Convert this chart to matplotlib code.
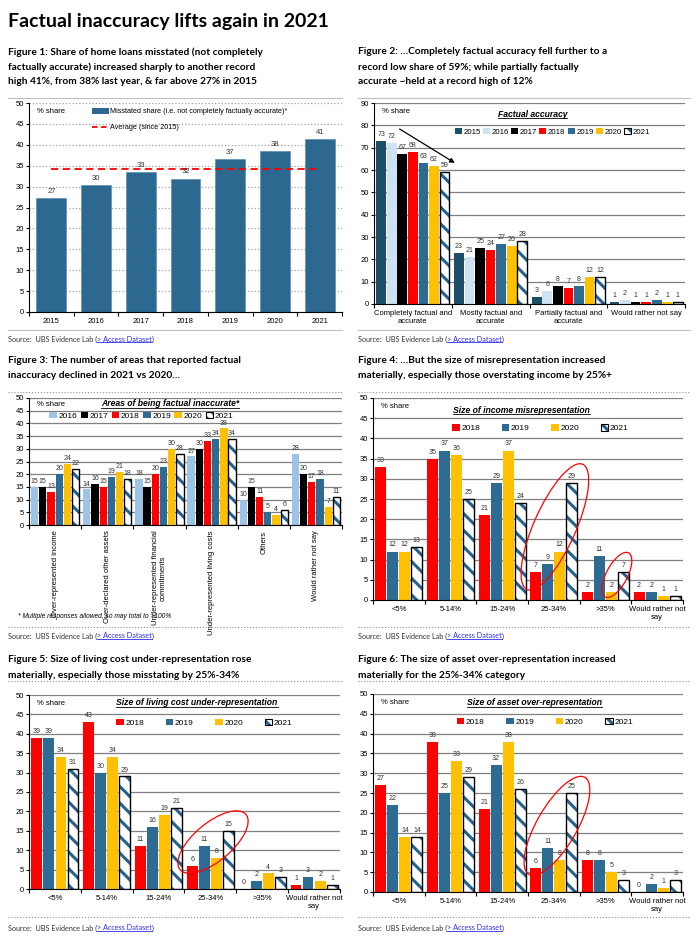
import numpy as np
import matplotlib
matplotlib.use('Agg')
import matplotlib.pyplot as plt
from matplotlib.patches import Patch, Ellipse
from matplotlib.lines import Line2D
from matplotlib.legend_handler import HandlerTuple
import matplotlib.transforms as mtrans

plt.rcParams['font.family'] = ['Liberation Sans', 'DejaVu Sans']
plt.rcParams['hatch.linewidth'] = 2.2
CAP = ['Lato', 'DejaVu Sans']

# ---- data ----
years1 = ['2015', '2016', '2017', '2018', '2019', '2020', '2021']
misstated = [27.3, 30.3, 33.4, 31.9, 36.6, 38.4, 41.4]
avg_share = 34.2

acc_cats = ['Completely factual and\naccurate', 'Mostly factual and\naccurate',
            'Partially factual and\naccurate', 'Would rather not say']
acc_2015 = [73, 23, 3, 1]
acc_2016 = [72, 21, 6, 2]
acc_2017 = [67, 25, 8, 1]
acc_2018 = [68, 24, 7, 1]
acc_2019 = [63, 27, 8, 2]
acc_2020 = [62, 26, 12, 1]
acc_2021 = [59, 28, 12, 1]

area_cats = ['Over-represented income', 'Over-declared other assets',
             'Under-represented financial\ncommitments', 'Under-represented living costs',
             'Others', 'Would rather not say']
area_2016 = [15, 14, 18, 27, 10, 28]
area_2017 = [15, 16, 15, 30, 15, 20]
area_2018 = [13, 15, 20, 33, 11, 17]
area_2019 = [20, 19, 23, 34, 5, 18]
area_2020 = [24, 21, 30, 38, 4, 7]
area_2021 = [22, 18, 28, 34, 6, 11]

size_cats = ['<5%', '5-14%', '15-24%', '25-34%', '>35%', 'Would rather not\nsay']
inc_2018 = [33, 35, 21, 7, 2, 2]
inc_2019 = [12, 37, 29, 9, 11, 2]
inc_2020 = [12, 36, 37, 12, 2, 1]
inc_2021 = [13, 25, 24, 29, 7, 1]

liv_2018 = [39, 43, 11, 6, 0, 1]
liv_2019 = [39, 30, 16, 11, 2, 3]
liv_2020 = [34, 34, 19, 8, 4, 2]
liv_2021 = [31, 29, 21, 15, 3, 1]

ast_2018 = [27, 38, 21, 6, 8, 0]
ast_2019 = [22, 25, 32, 11, 8, 2]
ast_2020 = [14, 33, 38, 8, 5, 1]
ast_2021 = [14, 29, 26, 25, 3, 3]

# colours
C15 = '#1F4E68'
C16 = '#CFE2F3'
C16b = '#9DC3E6'
C17 = '#000000'
C18 = '#FF0000'
C19 = '#2E6B92'
C20 = '#FFC000'
CH = '#23628F'
HATCH = 'hatch'

W, H = 700, 944
fig = plt.figure(figsize=(7, 9.44), dpi=100)


def ax_px(x0, y0, x1, y1):
    return fig.add_axes([x0 / W, 1 - y1 / H, (x1 - x0) / W, (y1 - y0) / H])


def style(ax, cats, ymax, ystep, rot=0, grid_ls='-', grid_c='#808080'):
    n = len(cats)
    ax.set_xlim(-0.5, n - 0.5)
    ax.set_ylim(0, ymax)
    ax.set_yticks(np.arange(0, ymax + 1, ystep))
    ax.tick_params(axis='y', labelsize=5.5, length=2, pad=1.5)
    ax.set_xticks(np.arange(-0.5, n, 1))
    ax.set_xticklabels([])
    ax.set_xticks(np.arange(n), minor=True)
    if rot:
        ax.set_xticklabels(cats, minor=True, rotation=90, va='top', ha='center')
    else:
        ax.set_xticklabels(cats, minor=True)
    ax.tick_params(axis='x', which='major', length=3, width=0.8)
    ax.tick_params(axis='x', which='minor', length=0, labelsize=5.5, pad=4)
    for s in ['top', 'right']:
        ax.spines[s].set_visible(False)
    ax.spines['left'].set_linewidth(0.8)
    ax.spines['bottom'].set_linewidth(0.8)
    ax.grid(axis='y', color=grid_c, lw=0.9, ls=grid_ls)
    ax.set_axisbelow(True)
    ax.text(0.025, 0.975, '% share', transform=ax.transAxes, fontsize=5.5, va='top')


def grouped(ax, series, colors, width, step, ymax):
    n = len(series)
    x = np.arange(len(series[0]))
    handles = []
    for i, (vals, col) in enumerate(zip(series, colors)):
        xs = x + (i - (n - 1) / 2) * step
        if col == HATCH:
            ax.bar(xs, vals, width, color='white', edgecolor=CH, hatch='\\\\', lw=0)
            ax.bar(xs, vals, width, fill=False, edgecolor='black', lw=1.0)
            handles.append((Patch(facecolor='white', edgecolor=CH, hatch='\\\\\\', lw=0),
                            Patch(fill=False, edgecolor='black', lw=0.8)))
        else:
            ax.bar(xs, vals, width, color=col, lw=0)
            handles.append(Patch(facecolor=col, lw=0))
        for xi, v in zip(xs, vals):
            ax.text(xi, v + ymax * 0.015, f'{v:g}', ha='center', va='bottom',
                    fontsize=5, color='#333333')
    return handles


def legend(ax, handles, labels, x, y, colsp, fs=6):
    ax.legend(handles, labels, loc='center left', bbox_to_anchor=(x, y), ncol=len(labels),
              frameon=False, fontsize=fs, handlelength=0.9, handleheight=0.8,
              handletextpad=0.2, columnspacing=colsp, borderaxespad=0, borderpad=0,
              handler_map={tuple: HandlerTuple(ndivide=1)})


def ellipse(ax, xc, yc, w_px, h_px, ang):
    # size in pixels, centre in data units
    tr = fig.dpi_scale_trans + mtrans.ScaledTranslation(xc, yc, ax.transData)
    ax.add_patch(Ellipse((0, 0), w_px / 100, h_px / 100, angle=ang, fill=False,
                         edgecolor='red', lw=0.9, transform=tr, clip_on=False, zorder=5))


under = []


def title_in(ax, txt, x, y):
    t = ax.text(x, y, txt, transform=ax.transAxes, ha='center', va='center',
                fontsize=6.2, fontweight='bold', style='italic')
    under.append((t, 'black'))


# ---- Figure 1 ----
ax1 = ax_px(29, 103, 342, 312)
style(ax1, years1, 50, 5, grid_ls=':', grid_c='#a0a0a0')
ax1.bar(np.arange(7), misstated, 0.67, color='#2C6890', edgecolor='#5E90B2', lw=0.5)
for i, v in enumerate(misstated):
    ax1.text(i, v + 0.8, f'{v:.0f}', ha='center', va='bottom', fontsize=5.5, color='#333333')
ax1.hlines(avg_share, 0, 6, colors='red', linestyles=(0, (4, 2.5)), lw=1.3)
ax1.legend([Patch(facecolor='#2C6890', lw=0), Line2D([], [], color='red', ls=(0, (3, 2)), lw=1.3)],
           ['Misstated share (i.e. not completely factually accurate)*', 'Average (since 2015)'],
           loc='upper left', bbox_to_anchor=(0.2, 0.975), frameon=False, fontsize=5.2,
           handlelength=2.4, handleheight=0.8, handletextpad=0.1, labelspacing=1.2,
           borderaxespad=0, borderpad=0)

# ---- Figure 2 ----
ax2 = ax_px(374, 103, 685, 304)
style(ax2, acc_cats, 90, 10)
h2 = grouped(ax2, [acc_2015, acc_2016, acc_2017, acc_2018, acc_2019, acc_2020, acc_2021],
             [C15, C16, C17, C18, C19, C20, HATCH], 0.125, 0.136, 90)
legend(ax2, h2, years1, 0.26, 0.855, 0.3, fs=5.6)
title_in(ax2, 'Factual accuracy', 0.51, 0.945)
ax2.annotate('', xy=(0.57, 62.5), xytext=(-0.2, 79),
             arrowprops=dict(arrowstyle='-|>', color='black', lw=0.9, mutation_scale=7))

# ---- Figure 3 ----
ax3 = ax_px(29, 398, 342, 525)
style(ax3, area_cats, 50, 5, rot=True)
h3 = grouped(ax3, [area_2016, area_2017, area_2018, area_2019, area_2020, area_2021],
             [C16b, C17, C18, C19, C20, HATCH], 0.14, 0.157, 50)
legend(ax3, h3, years1[1:], 0.065, 0.86, 0.4)
title_in(ax3, 'Areas of being factual inaccurate*', 0.45, 0.955)

# ---- Figure 4 ----
ax4 = ax_px(373, 398, 683, 600)
style(ax4, size_cats, 50, 5)
h4 = grouped(ax4, [inc_2018, inc_2019, inc_2020, inc_2021], [C18, C19, C20, HATCH], 0.21, 0.233, 50)
legend(ax4, h4, years1[3:], 0.255, 0.85, 2.6)
title_in(ax4, 'Size of income misrepresentation', 0.48, 0.94)
ellipse(ax4, 3.02, 18.1, 137, 42, 66)
ellipse(ax4, 4.22, 6.2, 50, 21, 62)

# ---- Figure 5 ----
ax5 = ax_px(29, 695, 340, 889)
style(ax5, size_cats, 50, 5)
h5 = grouped(ax5, [liv_2018, liv_2019, liv_2020, liv_2021], [C18, C19, C20, HATCH], 0.21, 0.233, 50)
legend(ax5, h5, years1[3:], 0.28, 0.855, 2.6)
title_in(ax5, 'Size of living cost under-representation', 0.54, 0.96)
ellipse(ax5, 3.05, 12.1, 86, 38, 40)

# ---- Figure 6 ----
ax6 = ax_px(373, 694, 683, 892)
style(ax6, size_cats, 50, 5)
h6 = grouped(ax6, [ast_2018, ast_2019, ast_2020, ast_2021], [C18, C19, C20, HATCH], 0.21, 0.233, 50)
legend(ax6, h6, years1[3:], 0.27, 0.86, 2.6)
title_in(ax6, 'Size of asset over-representation', 0.52, 0.955)
ellipse(ax6, 3.06, 16.7, 112, 40, 60)

# ---- texts around ----
fig.text(8 / W, 1 - 22 / H, 'Factual inaccuracy lifts again in 2021', fontsize=14,
         fontweight='bold', family=CAP, va='center')

captions = [
    (8, [52, 67, 82], ['Figure 1: Share of home loans misstated (not completely',
                       'factually accurate) increased sharply to another record',
                       'high 41%, from 38% last year, & far above 27% in 2015']),
    (358, [52, 67, 82], ['Figure 2: \u2026Completely factual accuracy fell further to a',
                         'record low share of 59%; while partially factually',
                         'accurate ~held at a record high of 12%']),
    (8, [361, 376], ['Figure 3: The number of areas that reported factual',
                     'inaccuracy declined in 2021 vs 2020\u2026']),
    (358, [361, 376], ['Figure 4: \u2026But the size of misrepresentation increased',
                       'materially, especially those overstating income by 25%+']),
    (8, [659, 675], ['Figure 5: Size of living cost under-representation rose',
                     'materially, especially those misstating by 25%-34%']),
    (358, [659, 675], ['Figure 6: The size of asset over-representation increased',
                       'materially for the 25%-34% category']),
]
for x, ys, lines in captions:
    for y, ln in zip(ys, lines):
        fig.text(x / W, 1 - y / H, ln, fontsize=7.3, fontweight='bold', family=CAP, va='center')

fig.text(18 / W, 1 - 617 / H, '* Multiple responses allowed, so may total to >100%',
         fontsize=4.8, style='italic', va='center')

# separator lines
for y, ls, c in [(98, '-', '#c0c0c0'), (330, '-', '#c0c0c0'), (392, ':', '#909090'),
                 (627, ':', '#909090'), (681, ':', '#909090'), (917, ':', '#909090')]:
    for x0, x1 in [(8, 342), (358, 690)]:
        fig.add_artist(Line2D([x0 / W, x1 / W], [1 - y / H, 1 - y / H], color=c, lw=0.8, ls=ls))

# source lines
links = []
for y in [339, 636, 928]:
    for x in [8, 358]:
        t1 = fig.text(x / W, 1 - y / H, 'Source:  UBS Evidence Lab (', fontsize=5.2,
                      family=CAP, color='#333333', va='center')
        links.append(t1)

fig.canvas.draw()
r = fig.canvas.get_renderer()
inv = fig.transFigure.inverted()
for t1 in links:
    bb = t1.get_window_extent(r)
    x0, y0 = inv.transform((bb.x1, 0))
    t2 = fig.text(x0, t1.get_position()[1], '> Access Dataset', fontsize=5.2, family=CAP,
                  color='#2B2BE8', va='center')
    fig.canvas.draw()
    bb2 = t2.get_window_extent(r)
    xe, _ = inv.transform((bb2.x1, 0))
    fig.text(xe, t1.get_position()[1], ')', fontsize=5.2, family=CAP, color='#333333', va='center')
    under.append((t2, '#2B2BE8'))

fig.canvas.draw()
for t, c in under:
    bb = t.get_window_extent(r)
    (xa, ya), (xb, _) = inv.transform((bb.x0, bb.y0)), inv.transform((bb.x1, bb.y0))
    fig.add_artist(Line2D([xa, xb], [ya + 0.3 / H, ya + 0.3 / H], color=c, lw=0.6))

fig.savefig('out.png', dpi=100)
